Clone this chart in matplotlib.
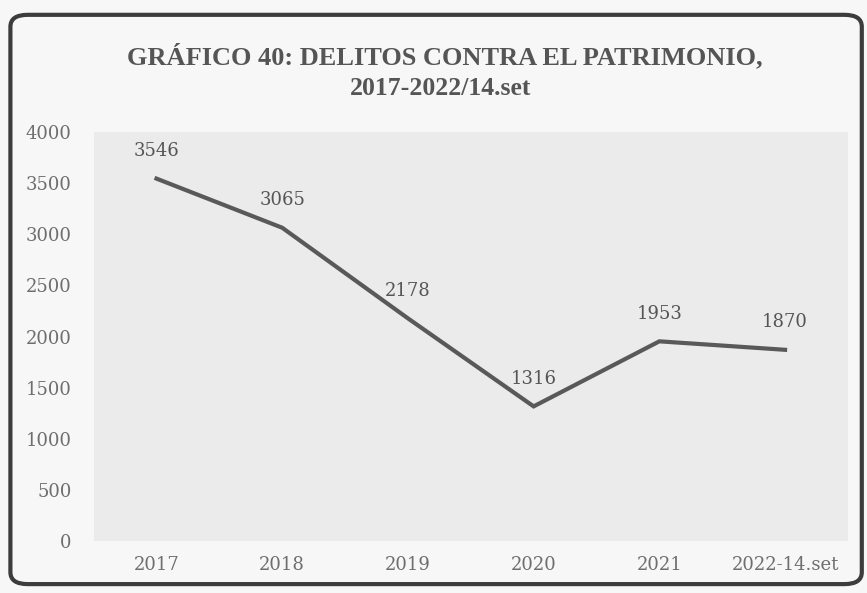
import matplotlib
matplotlib.use("Agg")
import matplotlib.pyplot as plt
from matplotlib.patches import FancyBboxPatch

categories = ["2017", "2018", "2019", "2020", "2021", "2022-14.set"]
values = [3546, 3065, 2178, 1316, 1953, 1870]
yticks = [0, 500, 1000, 1500, 2000, 2500, 3000, 3500, 4000]

plt.rcParams['font.family'] = ['DejaVu Serif']

fig = plt.figure(figsize=(8.67, 5.93), dpi=100, facecolor='#f7f7f7')
ax = fig.add_axes([0.108, 0.088, 0.870, 0.689])
ax.set_facecolor('#ebebeb')

x = list(range(len(categories)))
ax.plot(x, values, color='#595959', linewidth=3, solid_joinstyle='miter')
for xi, v in zip(x, values):
    ax.annotate(str(v), (xi, v), xytext=(0, 20), textcoords='offset points',
                ha='center', va='center', fontsize=13, color='#555555')

ax.set_xlim(-0.5, len(categories) - 0.5)
ax.set_ylim(0, 4000)
ax.set_xticks(x)
ax.set_xticklabels(categories)
ax.set_yticks(yticks)
ax.tick_params(axis='both', length=0, labelsize=13, labelcolor='#6e6e6e')
ax.tick_params(axis='x', pad=11)
ax.tick_params(axis='y', pad=16)
for s in ax.spines.values():
    s.set_visible(False)

fig.text(0.513, 0.905, "GRÁFICO 40: DELITOS CONTRA EL PATRIMONIO,", ha='center', va='center',
         fontsize=19, fontweight='bold', color='#555555', family='Liberation Serif')
fig.text(0.508, 0.851, "2017-2022/14.set", ha='center', va='center',
         fontsize=18.5, fontweight='bold', color='#555555', family='Liberation Serif')

border = FancyBboxPatch((0.012, 0.015), 0.982, 0.96, boxstyle="round,pad=0,rounding_size=0.02",
                        transform=fig.transFigure, fill=False, edgecolor='#3c3c3c', linewidth=3)
fig.patches.append(border)

fig.savefig("out.png", dpi=100, facecolor=fig.get_facecolor())
